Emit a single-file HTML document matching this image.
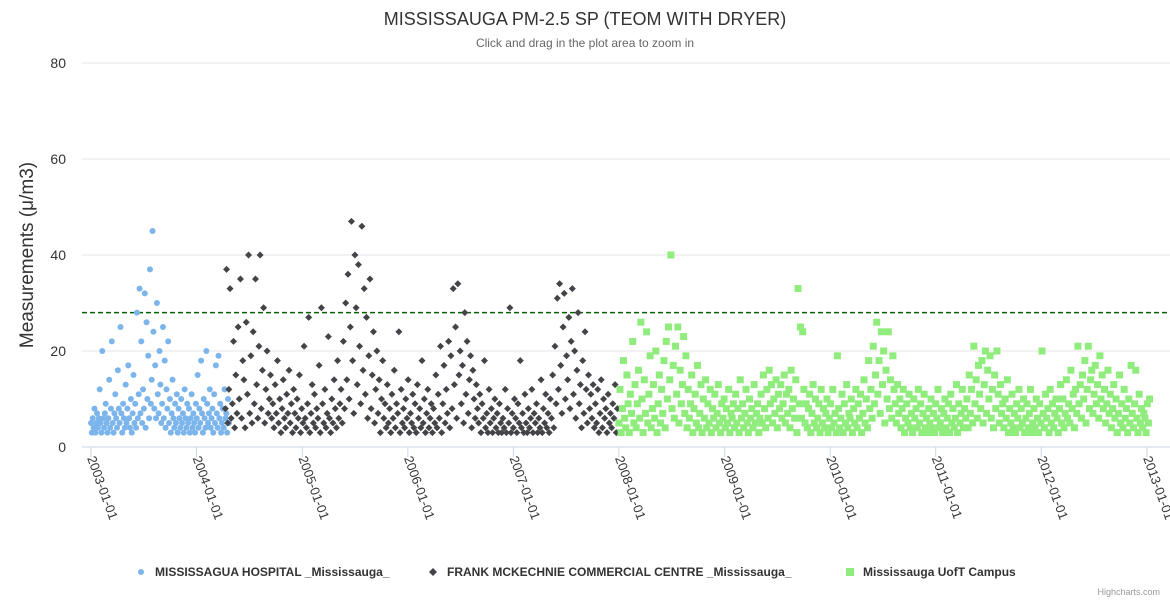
<!DOCTYPE html>
<html><head><meta charset="utf-8"><style>
html,body{margin:0;padding:0;background:#fff;}
svg text{font-family:"Liberation Sans","DejaVu Sans",sans-serif;}
</style></head><body>
<svg id="chart" width="1170" height="600" xmlns="http://www.w3.org/2000/svg">
<text x="585" y="25" text-anchor="middle" font-size="18" fill="#333">MISSISSAUGA PM-2.5 SP (TEOM WITH DRYER)</text>
<text x="585" y="47" text-anchor="middle" font-size="12" fill="#666">Click and drag in the plot area to zoom in</text>
<text transform="translate(33,255) rotate(-90)" text-anchor="middle" font-size="19" fill="#333">Measurements (μ/m3)</text>
<g id="grid"></g><g id="xaxis"></g><g id="marks"></g>
<g>
<g><circle cx="141" cy="572" r="3" fill="#7cb5ec"/><text x="155" y="576" font-size="12" font-weight="bold" fill="#333">MISSISSAGUA HOSPITAL _Mississauga_</text></g>
<g><path d="M433 568 L437 572 L433 576 L429 572Z" fill="#434348"/><text x="447" y="576" font-size="12" font-weight="bold" fill="#333">FRANK MCKECHNIE COMMERCIAL CENTRE _Mississauga_</text></g>
<g><rect x="846" y="568" width="8" height="8" fill="#90ed7d"/><text x="863" y="576" font-size="12" font-weight="bold" fill="#333">Mississauga UofT Campus</text></g>
</g>
<text x="1160" y="595" text-anchor="end" font-size="9" fill="#999">Highcharts.com</text>
</svg>
<script>
const yTicks=[0,20,40,60,80];
const xTickYears=[2003,2004,2005,2006,2007,2008,2009,2010,2011,2012,2013];
const threshold=28;
const hospitalStart='2003-01-01', hospitalStep=3;
const hospitalValues=[5,3,6,4,8,3,5,7,4,6,12,5,3,20,6,4,7,9,5,3,
6,14,4,8,22,5,3,7,11,6,4,16,8,5,25,7,3,9,6,4,
13,5,8,17,6,4,10,3,7,15,5,9,4,28,6,11,33,7,22,5,
12,8,32,4,26,10,19,6,37,9,14,45,24,8,17,6,30,11,7,20,
13,5,9,25,6,18,4,12,8,22,5,10,3,7,14,6,4,9,5,11,
3,8,6,4,10,5,7,3,12,6,4,9,5,8,3,6,11,4,7,5,
3,9,6,15,4,8,5,18,7,3,10,6,4,20,9,5,7,12,4,6,
8,3,11,5,17,7,4,19,6,9,3,5,8,4,12,6,7,3,10,5];
const frankStart='2004-04-10', frankStep=4;
const frankValues=[8,37,5,12,33,6,9,22,4,15,7,25,10,35,6,18,14,4,26,11,
40,7,19,5,24,9,35,13,6,21,40,8,16,29,5,12,20,7,10,15,
6,9,4,13,7,18,5,10,3,8,14,6,4,11,7,16,5,9,3,12,
7,4,10,6,15,3,8,5,21,6,4,9,27,3,7,13,5,11,4,8,
6,17,3,29,9,5,12,4,7,23,6,3,10,5,14,8,4,18,6,9,
12,5,22,8,30,14,36,10,25,47,18,7,40,29,13,38,21,9,46,16,
33,11,27,6,19,35,8,15,24,5,12,20,7,14,3,10,18,6,9,4,
13,5,8,3,11,6,16,4,9,7,24,3,12,5,8,4,10,6,14,3,
7,5,11,4,9,3,13,6,8,4,18,5,10,3,7,12,4,6,9,3,
8,5,15,4,11,6,21,3,9,17,5,12,7,22,4,19,8,33,13,25,
6,34,15,20,9,17,5,28,11,22,7,14,19,4,16,10,6,13,8,5,
11,3,9,6,18,4,7,3,12,5,8,3,6,10,4,7,3,9,5,3,
6,4,12,3,8,5,29,3,7,4,10,6,3,9,5,18,4,7,3,11,
5,3,8,4,6,12,3,7,5,9,3,6,4,14,3,8,5,11,4,7,
3,10,6,15,4,21,9,31,12,34,17,7,25,32,10,19,14,27,8,22,
33,11,20,6,16,28,9,13,4,18,7,24,12,5,15,8,11,6,13,4,
9,5,12,3,7,14,4,10,6,8,3,11,5,7,4,9,6,13,3,8];
const uoftStart='2008-01-01', uoftStep=4;
const uoftValues=[5,12,3,8,18,6,4,15,9,3,11,7,22,5,13,4,9,16,6,26,
10,3,14,7,24,5,11,19,4,8,13,6,20,3,9,15,5,12,7,18,
4,22,10,25,14,40,8,17,6,21,11,25,5,16,9,13,23,7,19,4,
12,6,9,15,3,8,11,5,17,4,7,13,3,10,6,14,4,9,5,12,
3,8,6,11,4,7,13,5,3,9,6,10,4,8,5,12,3,7,6,9,
4,11,5,8,3,14,6,9,4,7,12,5,3,10,6,8,4,13,5,7,
9,3,6,11,5,15,8,4,12,6,16,9,13,5,10,7,14,4,11,8,
13,6,9,15,5,11,7,12,4,16,8,10,6,14,3,33,9,25,6,24,
12,5,9,4,8,11,3,7,13,5,10,4,6,9,3,12,5,8,4,7,
10,3,6,9,4,12,5,7,3,19,8,4,6,11,3,9,5,13,4,7,
6,10,3,8,5,12,4,9,6,11,3,7,14,5,10,4,18,8,12,6,
21,9,15,26,11,18,7,24,13,20,5,16,10,24,8,14,6,19,12,9,
5,13,7,10,4,8,12,3,6,9,5,11,4,7,3,10,6,8,4,12,
5,9,3,7,11,4,6,3,8,5,10,4,7,3,9,6,12,4,5,8,
3,7,10,4,6,9,3,11,5,8,4,6,13,3,9,5,7,12,4,8,
6,10,4,15,7,12,5,21,9,14,6,17,11,8,18,5,13,20,7,16,
10,19,6,12,4,15,8,20,11,5,13,7,9,4,10,6,14,3,8,5,
11,4,7,3,9,6,12,4,8,5,10,3,6,9,4,7,12,3,5,8,
4,10,6,3,9,5,20,7,4,11,6,8,3,12,5,9,4,7,10,6,
3,8,13,5,10,4,7,14,6,9,5,16,8,11,4,12,7,21,9,13,
6,15,10,18,5,12,21,8,14,16,7,11,17,9,13,6,19,10,15,8,
12,5,9,16,7,11,4,8,13,6,10,3,7,15,5,9,4,12,6,8,
3,10,5,17,7,4,9,16,6,3,11,5,8,4,7,6,3,9,5,10];

const NS='http://www.w3.org/2000/svg';
const t0=Date.UTC(2003,0,1), t1=Date.UTC(2013,0,1);
const X0=91, X1=1147, Y0=447, Y1=63;
function xs(t){return X0+(t-t0)/(t1-t0)*(X1-X0);}
function ys(v){return Y0-(v/80)*(Y0-Y1);}
function mk(tag,attrs,parent){const e=document.createElementNS(NS,tag);for(const k in attrs)e.setAttribute(k,attrs[k]);parent.appendChild(e);return e;}
const grid=document.getElementById('grid'), xa=document.getElementById('xaxis'), marks=document.getElementById('marks');
yTicks.forEach(v=>{
  const l=mk('line',{x1:82,x2:1172,y1:ys(v),y2:ys(v),stroke:v===0?'#ccd6eb':'#e6e6e6','stroke-width':1},grid);
  
  
  const t=mk('text',{x:66,y:ys(v)+5,'text-anchor':'end','font-size':14,fill:'#333'},grid);
  t.textContent=v;
  
  
});
xTickYears.forEach(yr=>{
  const x=xs(Date.UTC(yr,0,1));
  const l=mk('line',{x1:x,x2:x,y1:Y0,y2:Y0+10,stroke:'#ccd6eb'},xa);
  
  
  const t=mk('text',{x:0,y:0,'font-size':13,fill:'#333',transform:`translate(${x-4},${Y0+11}) rotate(70)`},xa);
  t.textContent=yr+'-01-01';
  
  
});
const th=mk('line',{x1:82,x2:1172,y1:ys(threshold),y2:ys(threshold),stroke:'#006400','stroke-width':1.5,'stroke-dasharray':'5,3'},grid);


function dateOf(start,step,i){const d=new Date(start+'T00:00:00Z').getTime();return d+i*step*86400000;}
const gH=mk('g',{},marks);
hospitalValues.forEach((v,i)=>{
  const c=mk('circle',{cx:xs(dateOf(hospitalStart,hospitalStep,i)),cy:ys(v),r:3,fill:'#7cb5ec'},gH);
  
  
});
const gF=mk('g',{},marks);
frankValues.forEach((v,i)=>{
  const x=xs(dateOf(frankStart,frankStep,i)), y=ys(v);
  const p=mk('path',{d:`M${x} ${y-3.5}L${x+3.5} ${y}L${x} ${y+3.5}L${x-3.5} ${y}Z`,fill:'#434348'},gF);
  
  
});
const gU=mk('g',{},marks);
uoftValues.forEach((v,i)=>{
  const x=xs(dateOf(uoftStart,uoftStep,i)), y=ys(v);
  const r=mk('rect',{x:x-3.5,y:y-3.5,width:7,height:7,fill:'#90ed7d'},gU);
  
  
});
</script>
</body></html>
